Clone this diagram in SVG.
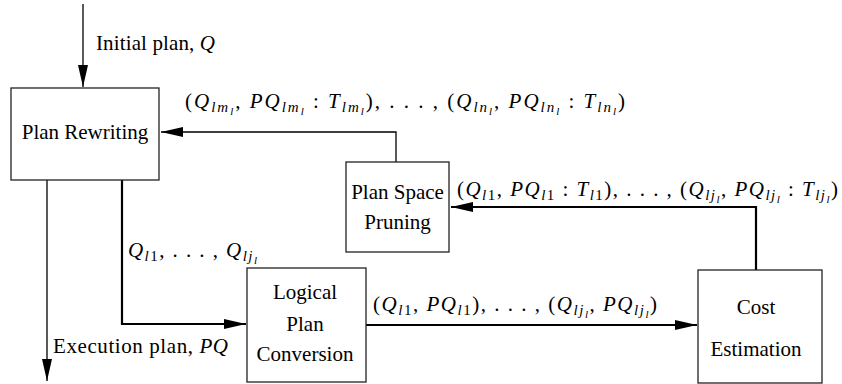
<svg xmlns="http://www.w3.org/2000/svg" width="842" height="384" viewBox="0 0 842 384">
<style>
.box{fill:#fff;stroke:#222;stroke-width:1.3}
.t{font-family:"Liberation Serif","Times New Roman",serif;font-size:21px;fill:#000}
.mt{font-family:"Liberation Serif","Times New Roman",serif;font-size:21px;fill:#000}
.i{font-style:italic}
.s{font-size:15px;font-style:italic}
.n{font-size:15px}
.ss{font-size:11px;font-style:italic}
.thin{fill:none;stroke:#000;stroke-width:1.3}
.thick{fill:none;stroke:#000;stroke-width:2.2}
</style>
<defs>
<marker id="ah" markerUnits="userSpaceOnUse" markerWidth="24" markerHeight="12" refX="22" refY="5" orient="auto">
<path d="M0,0 L22,5 L0,10 Z" fill="#000"/>
</marker>
</defs>
<g id="connectors">
<path class="thin" d="M83,4 V87" marker-end="url(#ah)"/>
<path class="thin" d="M396,162 V132 H161" marker-end="url(#ah)"/>
<path class="thin" d="M47,180 V381" marker-end="url(#ah)"/>
<path class="thick" d="M122,180 V324 H246" marker-end="url(#ah)"/>
<path class="thick" d="M366,325 H697" marker-end="url(#ah)"/>
<path class="thick" d="M756,270 V207 H451" marker-end="url(#ah)"/>
</g>
<g id="n-rewriting">
<rect class="box" x="11" y="88" width="148" height="92"/>
<text class="t" x="85" y="139" text-anchor="middle">Plan Rewriting</text>
</g>
<g id="n-pruning">
<rect class="box" x="346" y="162" width="103" height="90"/>
<text class="t" x="397.5" y="199" text-anchor="middle">Plan Space</text>
<text class="t" x="397.5" y="229" text-anchor="middle">Pruning</text>
</g>
<g id="n-logical">
<rect class="box" x="247" y="268" width="119" height="114"/>
<text class="t" x="305" y="299" text-anchor="middle">Logical</text>
<text class="t" x="305" y="331" text-anchor="middle">Plan</text>
<text class="t" x="305" y="361" text-anchor="middle">Conversion</text>
</g>
<g id="n-cost">
<rect class="box" x="698" y="270" width="124" height="113"/>
<text class="t" x="756" y="314" text-anchor="middle">Cost</text>
<text class="t" x="756" y="356" text-anchor="middle">Estimation</text>
</g>
<g id="labels">
<text class="t" x="96" y="50" textLength="119">Initial plan, <tspan class="i">Q</tspan></text>
<text class="t" x="53" y="353" textLength="175">Execution plan, <tspan class="i">PQ</tspan></text>
<text class="mt" x="185" y="108" textLength="440">(<tspan class="i">Q</tspan><tspan class="s" dy="4">lm</tspan><tspan class="ss" dy="3">l</tspan><tspan dy="-7">, </tspan><tspan class="i">PQ</tspan><tspan class="s" dy="4">lm</tspan><tspan class="ss" dy="3">l</tspan><tspan dy="-7"> : </tspan><tspan class="i">T</tspan><tspan class="s" dy="4">lm</tspan><tspan class="ss" dy="3">l</tspan><tspan dy="-7">), . . . , (</tspan><tspan class="i">Q</tspan><tspan class="s" dy="4">ln</tspan><tspan class="ss" dy="3">l</tspan><tspan dy="-7">, </tspan><tspan class="i">PQ</tspan><tspan class="s" dy="4">ln</tspan><tspan class="ss" dy="3">l</tspan><tspan dy="-7"> : </tspan><tspan class="i">T</tspan><tspan class="s" dy="4">ln</tspan><tspan class="ss" dy="3">l</tspan><tspan dy="-7">)</tspan></text>
<text class="mt" x="457" y="196" textLength="381">(<tspan class="i">Q</tspan><tspan class="s" dy="4">l</tspan><tspan class="n">1</tspan><tspan dy="-4">, </tspan><tspan class="i">PQ</tspan><tspan class="s" dy="4">l</tspan><tspan class="n">1</tspan><tspan dy="-4"> : </tspan><tspan class="i">T</tspan><tspan class="s" dy="4">l</tspan><tspan class="n">1</tspan><tspan dy="-4">), . . . , (</tspan><tspan class="i">Q</tspan><tspan class="s" dy="4">lj</tspan><tspan class="ss" dy="3">l</tspan><tspan dy="-7">, </tspan><tspan class="i">PQ</tspan><tspan class="s" dy="4">lj</tspan><tspan class="ss" dy="3">l</tspan><tspan dy="-7"> : </tspan><tspan class="i">T</tspan><tspan class="s" dy="4">lj</tspan><tspan class="ss" dy="3">l</tspan><tspan dy="-7">)</tspan></text>
<text class="mt" x="128" y="257" textLength="129"><tspan class="i">Q</tspan><tspan class="s" dy="4">l</tspan><tspan class="n">1</tspan><tspan dy="-4">, . . . , </tspan><tspan class="i">Q</tspan><tspan class="s" dy="4">lj</tspan><tspan class="ss" dy="3">l</tspan></text>
<text class="mt" x="373" y="311" textLength="284">(<tspan class="i">Q</tspan><tspan class="s" dy="4">l</tspan><tspan class="n">1</tspan><tspan dy="-4">, </tspan><tspan class="i">PQ</tspan><tspan class="s" dy="4">l</tspan><tspan class="n">1</tspan><tspan dy="-4">), . . . , (</tspan><tspan class="i">Q</tspan><tspan class="s" dy="4">lj</tspan><tspan class="ss" dy="3">l</tspan><tspan dy="-7">, </tspan><tspan class="i">PQ</tspan><tspan class="s" dy="4">lj</tspan><tspan class="ss" dy="3">l</tspan><tspan dy="-7">)</tspan></text>
</g>
</svg>
